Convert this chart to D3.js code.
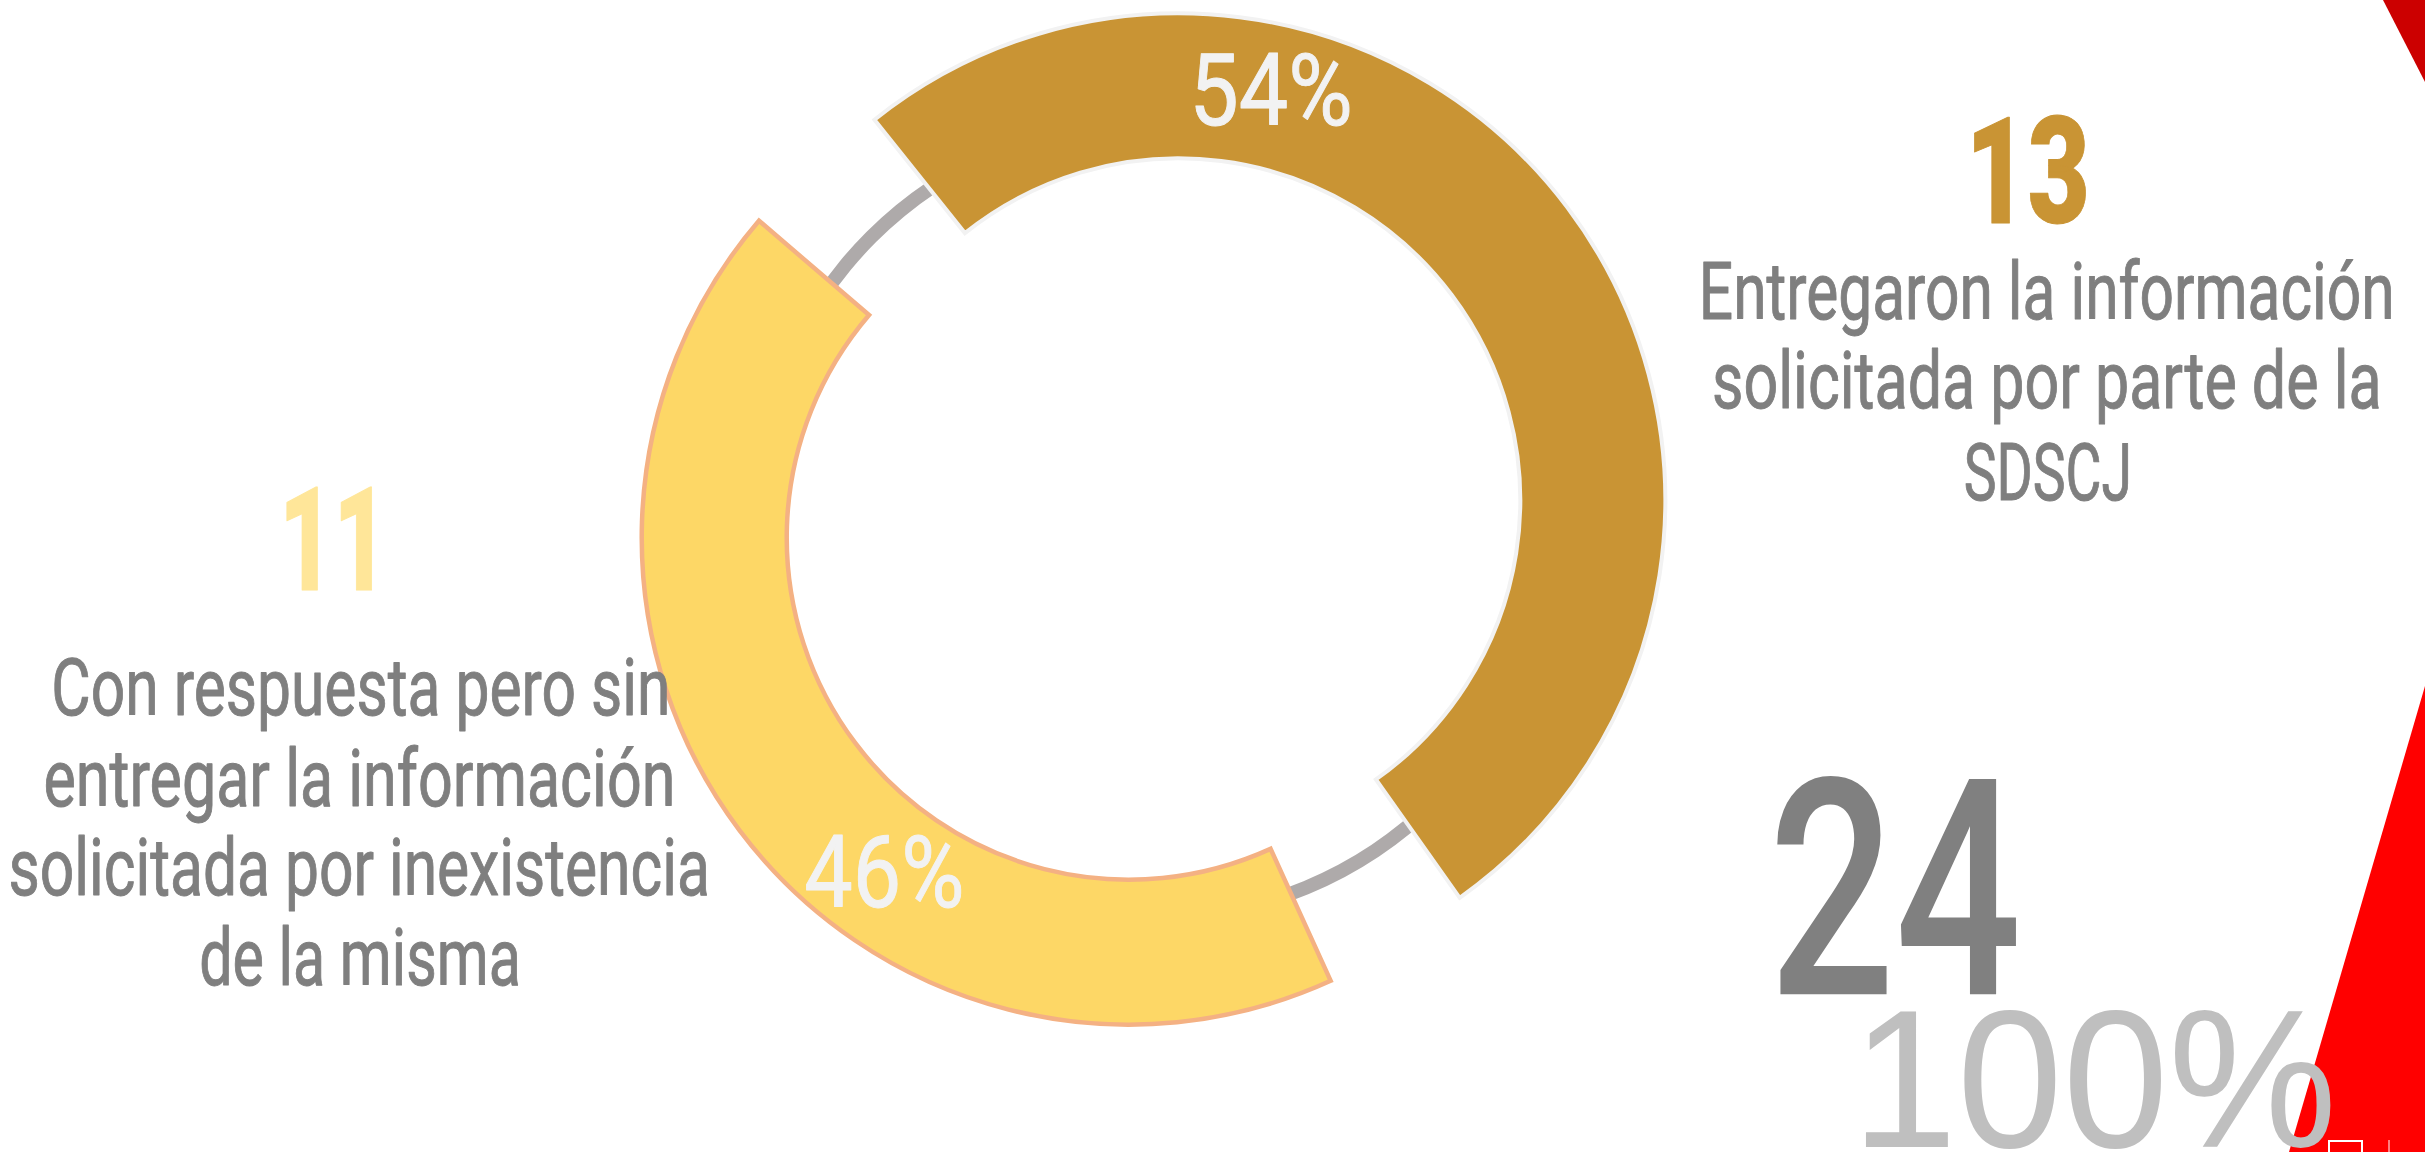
<!DOCTYPE html>
<html>
<head>
<meta charset="utf-8">
<script src="https://cdn.jsdelivr.net/npm/d3@7"></script>
<style>
html,body{margin:0;padding:0;background:#ffffff;overflow:hidden}
svg{display:block}
</style>
</head>
<body>
<svg id="chart" width="2425" height="1152"></svg>
<script>
// ---------------- DATA ----------------
const categories = [
  "Entregaron la información solicitada por parte de la SDSCJ",
  "Con respuesta pero sin entregar la información solicitada por inexistencia de la misma"
];
const categoryLines = [
  ["Entregaron la información", "solicitada por parte de la", "SDSCJ"],
  ["Con respuesta pero sin", "entregar la información", "solicitada por inexistencia", "de la misma"]
];
const counts = [13, 11];

// ---------------- STYLE / LAYOUT ----------------
const sliceFill   = ["#C99434", "#FDD766"];
const sliceStroke = ["#F2F2F2", "#F4B183"];
const countColor  = ["#C99434", "#FFE699"];
const textGray = "#7F7F7F";

const deg = Math.PI / 180;
const L = {
  center: [1153.5, 519],
  rIn: 342, rOut: 487, explode: 31,
  ringIn: 392, ringOut: 406,
  startDeg: -44, padDeg: 10.8,
  labelDeg: [12.9, 216.3], labelR: [422, 414], labelCap: 72, labelW: [155, 156],
  countBox: [
    {x0: 1974, x1: 2086, base: 223.3, cap: 106.6},
    {x0: 286,  x1: 372,  base: 590.3, cap: 104.3}
  ],
  catBlocks: [
    {cap: 57.5, lines: [
      {x0: 1703, x1: 2391.5, base: 319.3},
      {x0: 1714, x1: 2379, base: 408},
      {x0: 1965.4, x1: 2128.5, base: 500}
    ]},
    {cap: 58, lines: [
      {x0: 54, x1: 667, base: 715.5},
      {x0: 45.4, x1: 672, base: 806},
      {x0: 10.5, x1: 707, base: 895.5},
      {x0: 201, x1: 518, base: 985}
    ]}
  ],
  totalBox: {x0: 1775.4, x1: 2016.7, base: 994.3, cap: 216.5},
  shareBox: {x0: 1866, x1: 2331, base: 1147, cap: 136}
};

const svg = d3.select("#chart");

// ---------------- background decoration ----------------
const deco = svg.append("g");
deco.append("path").attr("d", "M2383,0 L2425,0 L2425,82 Z").attr("fill", "#CC0000");
deco.append("path").attr("d", "M2425,686 L2425,1152 L2289,1152 Z").attr("fill", "#FF0000");
deco.append("rect").attr("x", 2329).attr("y", 1141).attr("width", 33).attr("height", 14)
  .attr("fill", "none").attr("stroke", "#ffffff").attr("stroke-width", 2);
deco.append("line").attr("x1", 2389).attr("x2", 2389).attr("y1", 1140).attr("y2", 1152)
  .attr("stroke", "#ffffff").attr("stroke-width", 1);

// ---------------- text fitting helper ----------------
const ctx = document.createElement("canvas").getContext("2d");
function fontStr(style, size) { return `${style.weight} ${size}px ${style.family}`; }
function capRatio(style) {
  ctx.font = fontStr(style, 200);
  return ctx.measureText("H").actualBoundingBoxAscent / 200;
}
function fitText(g, str, box, style) {
  const sw = style.stroke || 0;
  const size = (box.cap - sw) / capRatio(style);
  ctx.font = fontStr(style, size);
  const m = ctx.measureText(str);
  const inkL = -m.actualBoundingBoxLeft, inkR = m.actualBoundingBoxRight;
  const sx = (box.x1 - box.x0) / (inkR - inkL + sw);
  const tx = box.x0 + sx * (sw / 2 - inkL);
  const t = g.append("text")
    .attr("transform", `translate(${tx},${box.base - sw / 2}) scale(${sx},1)`)
    .style("font", fontStr(style, size))
    .attr("fill", style.fill)
    .text(str);
  if (sw) t.attr("stroke", style.fill).attr("stroke-width", sw).attr("stroke-linejoin", "round");
  return t;
}

// ---------------- donut ----------------
const total = d3.sum(counts);
const pct = d3.format(".0%");

const pie = d3.pie().sort(null).value(d => d)
  .startAngle(L.startDeg * deg)
  .endAngle((L.startDeg + 360) * deg)
  .padAngle(L.padDeg * deg);
const slices = pie(counts);

const ring = d3.arc().innerRadius(L.ringIn).outerRadius(L.ringOut);
const arc = d3.arc().innerRadius(L.rIn).outerRadius(L.rOut);

const chart = svg.append("g").attr("transform", `translate(${L.center[0]},${L.center[1]})`);
chart.append("path").attr("d", ring({startAngle: 0, endAngle: 2 * Math.PI})).attr("fill", "#AEAAAA");

const sliceG = chart.selectAll("g.slice").data(slices).join("g")
  .attr("class", "slice")
  .attr("transform", d => {
    const mid = (d.startAngle + d.endAngle) / 2;
    return `translate(${Math.sin(mid) * L.explode},${-Math.cos(mid) * L.explode})`;
  });

sliceG.append("path")
  .attr("d", d => arc({startAngle: d.startAngle + d.padAngle / 2, endAngle: d.endAngle - d.padAngle / 2}))
  .attr("fill", (d, i) => sliceFill[i])
  .attr("stroke", (d, i) => sliceStroke[i])
  .attr("stroke-width", (d, i) => i === 0 ? 4 : 4.5)
  .attr("stroke-linejoin", "miter");

// percentage labels on the ring
sliceG.each(function (d, i) {
  const a = L.labelDeg[i] * deg;
  const cx = Math.sin(a) * L.labelR[i], cy = -Math.cos(a) * L.labelR[i];
  const w = L.labelW[i];
  fitText(d3.select(this), pct(d.value / total),
    {x0: cx - w / 2, x1: cx + w / 2, base: cy + L.labelCap / 2, cap: L.labelCap},
    {family: "Roboto", weight: 400, fill: "#F2F2F2", stroke: 1});
});

// ---------------- counts and category texts ----------------
const textG = svg.append("g");
counts.forEach((c, i) => {
  fitText(textG, String(c), L.countBox[i], {family: "Roboto", weight: 900, fill: countColor[i], stroke: 1});
  const blk = L.catBlocks[i];
  categoryLines[i].forEach((line, j) => {
    fitText(textG, line, {...blk.lines[j], cap: blk.cap}, {family: "Roboto", weight: 400, fill: textGray, stroke: 1});
  });
});

// total
fitText(textG, String(total), L.totalBox, {family: "Roboto", weight: 500, fill: "#808080", stroke: 0});
fitText(textG, pct(total / total), L.shareBox, {family: "'Liberation Sans'", weight: 400, fill: "#BFBFBF", stroke: 0});
</script>
</body>
</html>
